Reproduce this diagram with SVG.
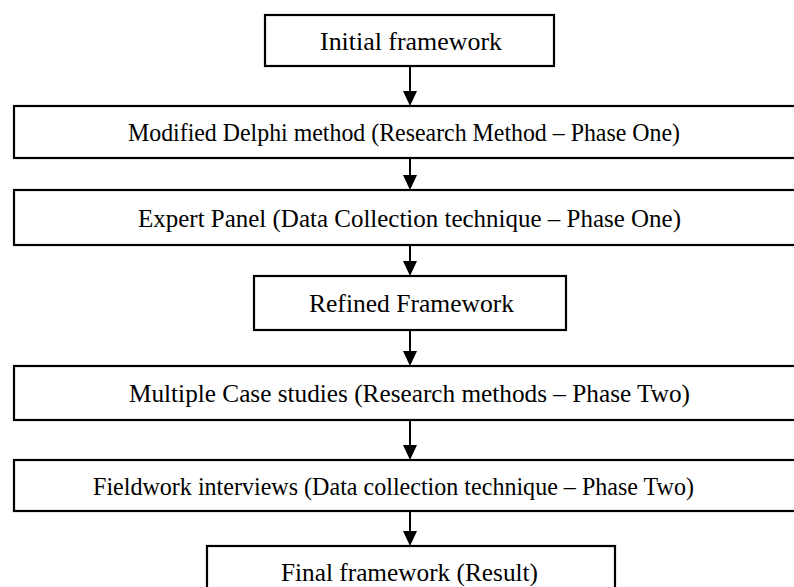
<svg xmlns="http://www.w3.org/2000/svg" width="794" height="587" viewBox="0 0 794 587">
  <style>
    .box { fill: #ffffff; stroke: #000000; stroke-width: 2.2; }
    .label { font-family: "Liberation Serif", "DejaVu Serif", serif; font-size: 26px; fill: #000000; }
    .link { stroke: #000000; stroke-width: 2; fill: none; }
    .head { fill: #000000; }
  </style>
  <rect x="0" y="0" width="794" height="587" fill="#ffffff"/>

  <!-- vertical flow arrows between consecutive steps -->
  <g id="connectors">
    <line class="link" x1="410" y1="66" x2="410" y2="92"/>
    <path class="head" d="M403,91 L417,91 L410,106 Z"/>
    <line class="link" x1="410" y1="158" x2="410" y2="176"/>
    <path class="head" d="M403,175 L417,175 L410,190 Z"/>
    <line class="link" x1="410" y1="245" x2="410" y2="262"/>
    <path class="head" d="M403,261 L417,261 L410,276 Z"/>
    <line class="link" x1="410" y1="330" x2="410" y2="352"/>
    <path class="head" d="M403,351 L417,351 L410,366 Z"/>
    <line class="link" x1="410" y1="420" x2="410" y2="446"/>
    <path class="head" d="M403,445 L417,445 L410,460 Z"/>
    <line class="link" x1="410" y1="511" x2="410" y2="532"/>
    <path class="head" d="M403,531 L417,531 L410,546 Z"/>
  </g>

  <g id="initial-framework">
    <rect class="box" x="265" y="15" width="289" height="51"/>
    <text class="label" x="320" y="50" textLength="182" lengthAdjust="spacingAndGlyphs">Initial framework</text>
  </g>

  <g id="delphi-method">
    <rect class="box" x="14" y="106" width="800" height="52"/>
    <text class="label" x="128" y="141" textLength="552" lengthAdjust="spacingAndGlyphs">Modified Delphi method (Research Method – Phase One)</text>
  </g>

  <g id="expert-panel">
    <rect class="box" x="14" y="190" width="800" height="55"/>
    <text class="label" x="138" y="227" textLength="543" lengthAdjust="spacingAndGlyphs">Expert Panel (Data Collection technique – Phase One)</text>
  </g>

  <g id="refined-framework">
    <rect class="box" x="254" y="276" width="312" height="54"/>
    <text class="label" x="309" y="312" textLength="205" lengthAdjust="spacingAndGlyphs">Refined Framework</text>
  </g>

  <g id="case-studies">
    <rect class="box" x="14" y="366" width="800" height="54"/>
    <text class="label" x="129" y="402" textLength="561" lengthAdjust="spacingAndGlyphs">Multiple Case studies (Research methods – Phase Two)</text>
  </g>

  <g id="fieldwork-interviews">
    <rect class="box" x="14" y="460" width="800" height="51"/>
    <text class="label" x="93" y="495" textLength="601" lengthAdjust="spacingAndGlyphs">Fieldwork interviews (Data collection technique – Phase Two)</text>
  </g>

  <g id="final-framework">
    <rect class="box" x="207" y="546" width="408" height="54"/>
    <text class="label" x="281" y="581" textLength="257" lengthAdjust="spacingAndGlyphs">Final framework (Result)</text>
  </g>
</svg>
